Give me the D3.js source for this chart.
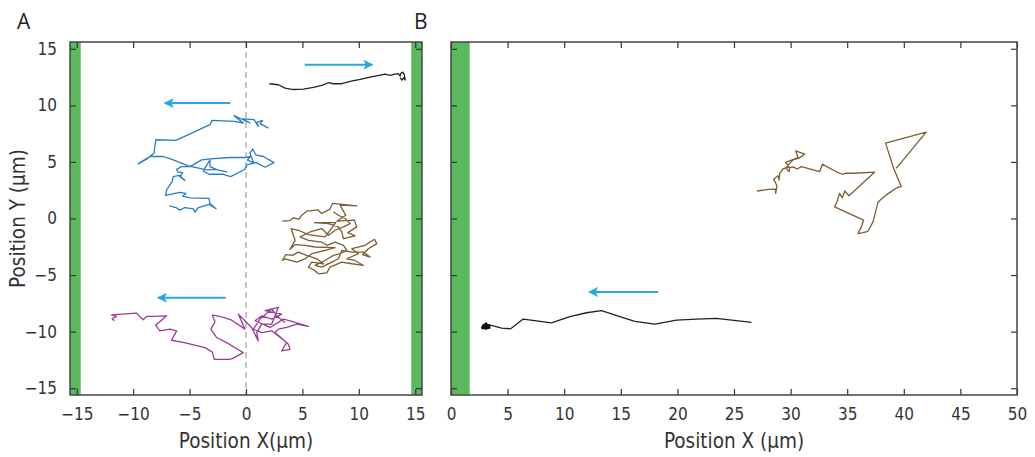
<!DOCTYPE html>
<html><head><meta charset="utf-8">
<script src="https://cdn.jsdelivr.net/npm/d3@7"></script>
<style>body{margin:0;background:#fff}svg{display:block}</style>
</head><body>
<svg id="c" width="1035" height="457"></svg>
<script>
// ---- data (µm) ----
const ticksA_X = [-15,-10,-5,0,5,10,15];
const ticksB_X = [0,5,10,15,20,25,30,35,40,45,50];
const ticksY = [-15,-10,-5,0,5,10,15];
const wallsA = [[-15.6,-14.65],[14.65,15.6]];
const wallsB = [[0,1.65]];

const blackA = [[2.07,11.91],[2.87,11.82],[3.46,11.52],[4.20,11.40],[5.09,11.43],[5.98,11.58],[6.72,11.76],[7.31,12.0],[7.75,11.91],[8.49,11.91],[9.23,12.12],[10.12,12.29],[11.0,12.50],[11.89,12.68],[12.33,12.76],[12.78,12.65],[13.22,12.76],[13.51,12.80],[13.66,12.59],[13.73,12.83],[13.90,12.94],[14.02,12.74],[14.11,12.23],[13.96,12.44],[13.82,12.23],[13.66,12.44]];

const blueA = [[-6.80,1.12],[-6.21,0.97],[-5.86,0.74],[-5.41,0.97],[-4.67,0.86],[-4.53,0.56],[-4.23,0.97],[-3.25,1.24],[-2.66,0.86],[-3.19,1.33],[-3.28,1.77],[-4.97,1.83],[-5.62,1.98],[-5.32,2.22],[-5.86,2.31],[-7.13,2.04],[-7.04,2.52],[-6.54,3.26],[-6.45,3.70],[-5.92,3.82],[-5.41,3.35],[-5.86,3.70],[-5.62,4.06],[-6.06,4.12],[-6.15,4.35],[-5.71,4.59],[-4.97,4.59],[-3.93,5.18],[-3.14,5.27],[-1.42,5.39],[-0.09,5.39],[0.41,5.48],[0.12,5.18],[0.71,4.89],[0.35,5.77],[0.59,6.13],[0.86,5.63],[1.54,5.48],[2.48,4.94],[1.69,4.53],[0.89,4.94],[0.06,4.74],[-0.09,4.35],[-1.36,3.70],[-2.01,3.91],[-3.25,3.91],[-3.79,4.20],[-3.19,5.18],[-3.19,4.59],[-2.54,4.29],[-1.72,4.12],[-2.75,4.35],[-3.49,4.29],[-5.12,4.65],[-6.45,5.18],[-7.34,5.48],[-8.52,5.48],[-9.11,5.12],[-9.55,4.83],[-8.81,5.24],[-8.16,5.77],[-7.99,6.96],[-6.21,6.90],[-3.19,8.29],[-3.02,8.68],[-0.98,8.59],[-0.24,8.44],[-1.06,9.09],[0.35,8.44],[-0.24,8.80],[0.71,8.74],[1.09,8.15],[0.95,8.50],[1.48,8.67],[1.24,8.38],[1.98,7.99]];

const brownA = [[3.22,-0.24],[3.90,-0.18],[4.20,0.06],[4.70,-0.06],[4.94,0.29],[5.38,0.65],[6.36,0.77],[6.71,0.44],[7.45,0.83],[7.66,1.33],[9.82,1.12],[8.34,1.18],[8.84,0.29],[8.05,-0.24],[9.61,-0.15],[9.82,-0.74],[9.02,-1.25],[9.67,-1.54],[8.64,-1.78],[8.49,-1.19],[8.19,-0.74],[7.31,-0.45],[6.06,-0.36],[7.96,-0.36],[7.45,-1.04],[7.01,-1.63],[5.53,-1.43],[4.64,-1.04],[3.99,-0.89],[4.35,-1.93],[3.90,-2.73],[4.35,-2.31],[5.24,-2.37],[6.12,-2.52],[7.90,-2.58],[7.01,-2.82],[5.83,-3.11],[5.24,-3.56],[4.50,-3.85],[3.46,-3.56],[3.22,-3.71],[3.52,-3.20],[4.11,-3.26],[4.64,-2.97],[5.38,-3.26],[6.27,-3.56],[6.86,-4.00],[5.83,-3.85],[5.53,-4.30],[5.97,-4.51],[6.42,-4.89],[7.16,-4.80],[7.45,-4.30],[8.49,-3.85],[9.38,-4.00],[10.41,-4.15],[9.67,-3.71],[8.93,-3.56],[9.97,-3.11],[9.38,-2.67],[10.56,-2.37],[11.00,-2.08],[11.39,-1.84],[11.59,-2.22],[10.85,-2.67],[10.32,-3.20],[11.00,-3.41],[10.41,-2.97],[9.38,-2.97],[8.49,-2.82],[8.19,-3.56],[7.60,-3.85],[6.71,-4.30],[6.12,-4.15],[7.01,-3.71],[7.75,-3.26],[8.34,-3.11],[8.93,-2.82],[8.64,-2.37],[7.90,-2.08],[7.16,-2.37],[6.71,-2.08],[5.53,-1.93],[4.79,-1.63],[5.68,-1.19],[6.71,-0.89],[7.31,-1.48],[7.90,-1.04],[8.64,-0.74],[9.23,-0.45],[8.78,0.00],[8.19,0.29],[7.75,0.59]];

const purpleA = [[-11.68,-9.04],[-11.86,-8.84],[-11.48,-8.65],[-11.92,-8.51],[-9.70,-8.36],[-9.11,-8.95],[-8.81,-8.65],[-8.13,-8.65],[-7.04,-8.60],[-7.72,-9.19],[-8.02,-9.43],[-7.63,-9.93],[-6.74,-9.78],[-6.15,-9.93],[-6.60,-10.76],[-5.47,-10.97],[-3.64,-11.41],[-2.99,-11.80],[-2.81,-12.45],[-1.51,-12.45],[-1.21,-12.39],[-0.24,-11.85],[-0.74,-11.56],[-1.72,-10.97],[-2.60,-10.52],[-3.11,-9.78],[-2.75,-9.13],[-2.99,-8.54],[-2.31,-8.65],[-1.33,-8.95],[-0.09,-9.78],[-0.68,-8.45],[0.50,-9.63],[1.09,-10.82],[0.95,-10.08],[1.39,-9.34],[2.28,-9.34],[2.87,-7.85],[1.69,-8.15],[3.16,-8.45],[2.28,-8.89],[1.39,-8.61],[0.80,-9.04],[2.13,-9.63],[3.31,-8.89],[3.90,-9.04],[5.53,-9.54],[4.50,-9.34],[3.61,-9.63],[2.87,-9.78],[2.57,-10.08],[3.76,-11.11],[3.90,-11.56],[3.16,-11.71],[3.61,-10.97],[2.87,-10.38],[2.28,-9.93],[1.39,-10.08],[0.65,-9.78],[1.24,-8.89],[2.28,-8.00],[2.72,-8.59],[3.46,-9.19]];

const brownB = [[27.04,2.43],[28.01,2.57],[28.68,2.60],[28.68,2.22],[28.80,2.90],[28.51,3.46],[28.89,3.79],[28.98,3.40],[29.04,4.00],[29.33,4.38],[29.86,4.56],[29.57,4.97],[30.66,5.39],[30.45,5.98],[31.24,5.69],[30.74,5.33],[30.21,5.18],[29.57,4.50],[29.86,4.15],[29.92,4.50],[30.21,4.56],[30.57,4.38],[30.95,4.59],[32.57,4.15],[32.81,4.80],[34.10,4.09],[34.57,3.91],[34.86,4.00],[35.57,4.00],[37.42,4.09],[35.16,2.01],[34.78,2.43],[34.57,1.83],[34.33,2.22],[34.10,1.48],[33.89,1.03],[36.45,-0.15],[36.25,-0.74],[35.95,-1.33],[36.39,-1.24],[36.83,-1.13],[37.28,-0.30],[37.72,1.42],[37.92,1.63],[38.51,2.13],[39.39,2.72],[39.78,2.81],[39.10,4.44],[38.39,6.66],[41.98,7.64],[39.46,4.59],[39.31,4.44]];

const blackB = [[2.79,-9.57],[3.09,-9.34],[3.32,-9.63],[2.97,-9.72],[3.44,-9.46],[2.71,-9.69],[2.85,-9.40],[3.15,-9.46],[3.38,-9.40],[3.74,-9.49],[4.47,-9.69],[5.27,-9.75],[6.38,-8.89],[7.56,-9.04],[8.88,-9.22],[10.50,-8.68],[11.97,-8.33],[13.30,-8.15],[14.92,-8.68],[16.24,-9.10],[18.01,-9.33],[19.92,-8.98],[21.68,-8.89],[23.45,-8.83],[26.54,-9.19]];

// arrows: [x from, x to, y]
const arrowsA = [[5.2,11.2,13.6],[-1.4,-7.2,10.2],[-1.8,-7.8,-7.0]];
const arrowsB = [[18.3,12.2,-6.5]];

// ---- drawing ----
const svg = d3.select("#c");
const yTop = 42, yBot = 395;
const y = d3.scaleLinear().domain([-15.6,15.6]).range([yBot, yTop]);
const xA = d3.scaleLinear().domain([-15.6,15.6]).range([70,422]);
const xB = d3.scaleLinear().domain([0,50]).range([451,1017]);
const FONT = "'DejaVu Sans Condensed','Liberation Sans Narrow','Liberation Sans',sans-serif";
const GREEN = "#5cb85c", ARROW = "#27a7e1";

const defs = svg.append("defs");
defs.append("marker").attr("id","ah").attr("viewBox","0 0 10 10").attr("refX",9).attr("refY",5)
  .attr("markerWidth",5).attr("markerHeight",5).attr("markerUnits","strokeWidth").attr("orient","auto")
  .append("path").attr("d","M0,0 L10,5 L0,10 L2.5,5 Z").attr("fill",ARROW);

function panel(x, ticksX, walls, showY, titleX, lines, arrows, dashed){
  const g = svg.append("g");
  const [x0,x1] = x.range();
  walls.forEach(w => g.append("rect").attr("x",x(w[0])).attr("width",x(w[1])-x(w[0]))
     .attr("y",yTop).attr("height",yBot-yTop).attr("fill",GREEN));
  if (dashed) g.append("line").attr("x1",x(0)).attr("x2",x(0)).attr("y1",yTop).attr("y2",yBot)
     .attr("stroke","#a8a8a8").attr("stroke-width",1.3).attr("stroke-dasharray","6,4");
  const line = d3.line().x(d=>x(d[0])).y(d=>y(d[1]));
  lines.forEach(([data,col]) => g.append("path").attr("d",line(data)).attr("fill","none")
     .attr("stroke",col).attr("stroke-width",1.3).attr("stroke-linejoin","round"));
  arrows.forEach(a => g.append("line").attr("x1",x(a[0])).attr("x2",x(a[1])).attr("y1",y(a[2])).attr("y2",y(a[2]))
     .attr("stroke",ARROW).attr("stroke-width",2).attr("marker-end","url(#ah)"));
  const ax = (gen, tx, ty) => g.append("g").attr("transform",`translate(${tx},${ty})`).call(gen)
     .call(s=>s.select(".domain").remove())
     .call(s=>s.selectAll(".tick line").attr("stroke","#333").attr("stroke-width",1.2))
     .call(s=>s.selectAll("text").attr("font-family",FONT).attr("font-size",17).attr("fill","#333"));
  ax(d3.axisBottom(x).tickValues(ticksX).tickSizeInner(-6).tickSizeOuter(0).tickPadding(13).tickFormat(d3.format("d")), 0, yBot);
  ax(d3.axisTop(x).tickValues(ticksX).tickSizeInner(-6).tickSizeOuter(0).tickFormat(""), 0, yTop);
  ax(d3.axisLeft(y).tickValues(ticksY).tickSizeInner(-6).tickSizeOuter(0).tickPadding(13).tickFormat(showY? d3.format("d") : ""), x0, 0);
  ax(d3.axisRight(y).tickValues(ticksY).tickSizeInner(-6).tickSizeOuter(0).tickFormat(""), x1, 0);
  g.append("rect").attr("x",x0).attr("y",yTop).attr("width",x1-x0).attr("height",yBot-yTop)
     .attr("fill","none").attr("stroke","#444").attr("stroke-width",1.5);
  g.append("text").attr("x",(x0+x1)/2).attr("y",448).attr("text-anchor","middle")
     .attr("font-family",FONT).attr("font-size",20.5).attr("fill","#333").text(titleX);
}

panel(xA, ticksA_X, wallsA, true, "Position X(μm)",
  [[blackA,"#222"],[blueA,"#2a7cc4"],[brownA,"#7b5e33"],[purpleA,"#983c95"]], arrowsA, true);
panel(xB, ticksB_X, wallsB, false, "Position X (μm)",
  [[brownB,"#7b5e33"],[blackB,"#222"]], arrowsB, false);

svg.append("path").attr("d", d3.line().x(d=>xB(d[0])).y(d=>y(d[1]))(blackB.slice(0,6)))
  .attr("fill","none").attr("stroke","#111").attr("stroke-width",3);

svg.append("text").attr("transform",`translate(25,${(yTop+yBot)/2}) rotate(-90)`).attr("text-anchor","middle")
  .attr("font-family",FONT).attr("font-size",20.5).attr("fill","#333").text("Position Y (μm)");
svg.append("text").attr("x",17).attr("y",29).attr("font-family","'Open Sans','DejaVu Sans',sans-serif")
  .attr("font-size",21).attr("fill","#222").text("A");
svg.append("text").attr("x",414).attr("y",29).attr("font-family","'Open Sans','DejaVu Sans',sans-serif")
  .attr("font-size",21).attr("fill","#222").text("B");
</script>
</body></html>
